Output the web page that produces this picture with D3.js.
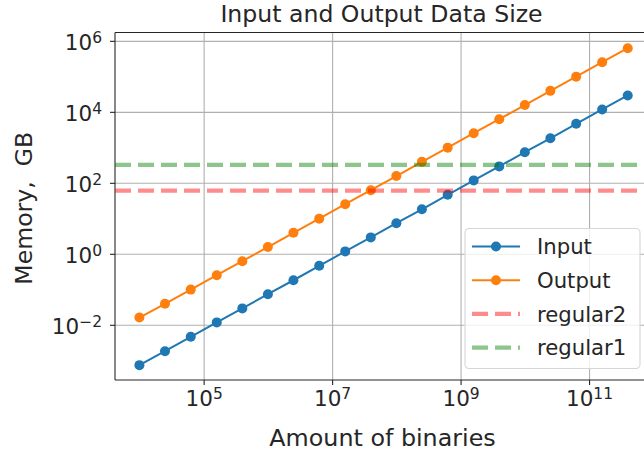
<!DOCTYPE html>
<html>
<head>
<meta charset="utf-8">
<script src="https://cdn.jsdelivr.net/npm/d3@7"></script>
<style>
  body { margin: 0; background: #fff; }
  text { font-family: "DejaVu Sans", sans-serif; fill: #262626; white-space: pre; }
</style>
</head>
<body>
<svg id="chart" width="644" height="455"></svg>
<script>
// amount of binaries
const binaries = [1e4, 2.5e4, 6.3e4, 1.6e5, 4e5, 1e6, 2.5e6, 6.3e6, 1.6e7, 4e7,
                  1e8, 2.5e8, 6.3e8, 1.6e9, 4e9, 1e10, 2.5e10, 6.3e10, 1.6e11, 4e11];
// memory, GB
const inputGB = [7.3e-4, 1.8e-3, 4.6e-3, 0.0117, 0.029, 0.073, 0.18, 0.46, 1.17, 2.9,
                 7.3, 18, 46, 117, 290, 730, 1800, 4600, 11700, 29000];
const outputGB = [0.016, 0.039, 0.098, 0.25, 0.62, 1.55, 3.9, 9.8, 25, 62,
                  155, 390, 980, 2500, 6200, 15500, 39000, 98000, 250000, 620000];
const regular2 = 60;
const regular1 = 320;

const xTicks = [1e5, 1e7, 1e9, 1e11];
const yTicks = [1e-2, 1e0, 1e2, 1e4, 1e6];

const width = 644, height = 455;
const margin = {top: 32.5, right: -8, bottom: 75, left: 115};

let svg = d3.select("#chart");

let x = d3.scaleLog().domain([Math.pow(10, 3.62), Math.pow(10, 11.98)])
    .range([margin.left, width - margin.right]);
let y = d3.scaleLog().domain([Math.pow(10, -3.555), Math.pow(10, 6.235)])
    .range([height - margin.bottom, margin.top]);

const plotW = width - margin.right - margin.left;
const plotH = height - margin.bottom - margin.top;

// grid
let gx = svg.append("g")
    .attr("transform", `translate(0,${height - margin.bottom})`)
    .call(d3.axisBottom(x).tickValues(xTicks).tickSize(-plotH).tickFormat(""));
let gy = svg.append("g")
    .attr("transform", `translate(${margin.left},0)`)
    .call(d3.axisLeft(y).tickValues(yTicks).tickSize(-plotW).tickFormat(""));
[gx, gy].forEach(g => {
    g.select(".domain").remove();
    g.selectAll("line").style("stroke", "#b0b0b0").style("stroke-width", 1.1);
});

function sup(sel) {
    sel.each(function(d) {
        let t = d3.select(this);
        let e = Math.round(Math.log10(d));
        t.text("");
        t.append("tspan").text("10");
        t.append("tspan").attr("dy", "-0.47em").style("font-size", "15.5px")
            .text(e < 0 ? "\u2212" + (-e) : e);
    });
}

// axes
let xAxis = svg.append("g")
    .attr("transform", `translate(0,${height - margin.bottom})`)
    .call(d3.axisBottom(x).tickValues(xTicks).tickSize(5).tickPadding(1));
let yAxis = svg.append("g")
    .attr("transform", `translate(${margin.left},0)`)
    .call(d3.axisLeft(y).tickValues(yTicks).tickSize(5).tickPadding(8));
[xAxis, yAxis].forEach(g => {
    g.select(".domain").remove();
    g.selectAll("line").style("stroke", "#262626").style("stroke-width", 1.1);
    g.selectAll("text").style("font-size", "21.5px").style("fill", "#262626")
        .attr("font-family", null).call(sup);
});
xAxis.selectAll("text").attr("dy", "0.95em");
yAxis.selectAll("text").attr("dy", "0.42em");

// spines
svg.append("line").attr("x1", margin.left).attr("x2", margin.left)
    .attr("y1", margin.top).attr("y2", height - margin.bottom)
    .style("stroke", "#262626").style("stroke-width", 1.1);
svg.append("line").attr("x1", margin.left).attr("x2", width)
    .attr("y1", height - margin.bottom).attr("y2", height - margin.bottom)
    .style("stroke", "#262626").style("stroke-width", 1.1);
svg.append("line").attr("x1", margin.left).attr("x2", width)
    .attr("y1", margin.top).attr("y2", margin.top)
    .style("stroke", "#262626").style("stroke-width", 1.1);

// series
let series = [
    {name: "Input", values: inputGB, color: "#1f77b4"},
    {name: "Output", values: outputGB, color: "#ff7f0e"}
];
let line = d3.line().x(d => x(d[0])).y(d => y(d[1]));
series.forEach(s => {
    let pts = binaries.map((b, i) => [b, s.values[i]]);
    svg.append("path").datum(pts)
        .attr("d", line)
        .style("fill", "none")
        .style("stroke", s.color)
        .style("stroke-width", 2);
    svg.selectAll(null).data(pts).enter()
        .append("circle")
        .attr("cx", d => x(d[0]))
        .attr("cy", d => y(d[1]))
        .attr("r", 5)
        .style("fill", s.color);
});

// horizontal limits
let hlines = [
    {name: "regular2", value: regular2, color: "#ff0000"},
    {name: "regular1", value: regular1, color: "#008000"}
];
hlines.forEach(h => {
    svg.append("line")
        .attr("x1", margin.left).attr("x2", width)
        .attr("y1", y(h.value)).attr("y2", y(h.value))
        .style("stroke", h.color)
        .style("stroke-opacity", 0.45)
        .style("stroke-width", 4.2)
        .style("stroke-dasharray", "16,7");
});

// legend
let legend = svg.append("g").attr("transform", "translate(465,228.5)");
legend.append("rect")
    .attr("width", 175).attr("height", 140)
    .attr("rx", 4)
    .style("fill", "#fff").style("fill-opacity", 0.8)
    .style("stroke", "#d6d6d6").style("stroke-width", 1.1);
let entries = series.map(s => ({name: s.name, color: s.color, type: "marker"}))
    .concat(hlines.map(h => ({name: h.name, color: h.color, type: "dash"})));
entries.forEach((e, i) => {
    let cy = 18 + i * 33.7;
    let g = legend.append("g").attr("transform", `translate(0,${cy})`);
    if (e.type === "marker") {
        g.append("line").attr("x1", 7).attr("x2", 55)
            .style("stroke", e.color).style("stroke-width", 2);
        g.append("circle").attr("cx", 31).attr("r", 5).style("fill", e.color);
    } else {
        g.append("line").attr("x1", 7).attr("x2", 55)
            .style("stroke", e.color).style("stroke-opacity", 0.45)
            .style("stroke-width", 4.2).style("stroke-dasharray", "16,7");
    }
    g.append("text").attr("x", 72).attr("dy", "0.36em")
        .style("font-size", "21.2px").text(e.name);
});

// title and labels
svg.append("text")
    .attr("x", margin.left + plotW / 2 - 2).attr("y", 22)
    .style("text-anchor", "middle").style("font-size", "23.6px")
    .text("Input and Output Data Size");
svg.append("text")
    .attr("x", margin.left + plotW / 2 - 1).attr("y", 446)
    .style("text-anchor", "middle").style("font-size", "23.8px")
    .text("Amount of binaries");
svg.append("text")
    .attr("transform", `translate(32,${margin.top + plotH / 2 + 2}) rotate(-90)`)
    .style("text-anchor", "middle").style("font-size", "23.6px")
    .text("Memory,  GB");
</script>
</body>
</html>
